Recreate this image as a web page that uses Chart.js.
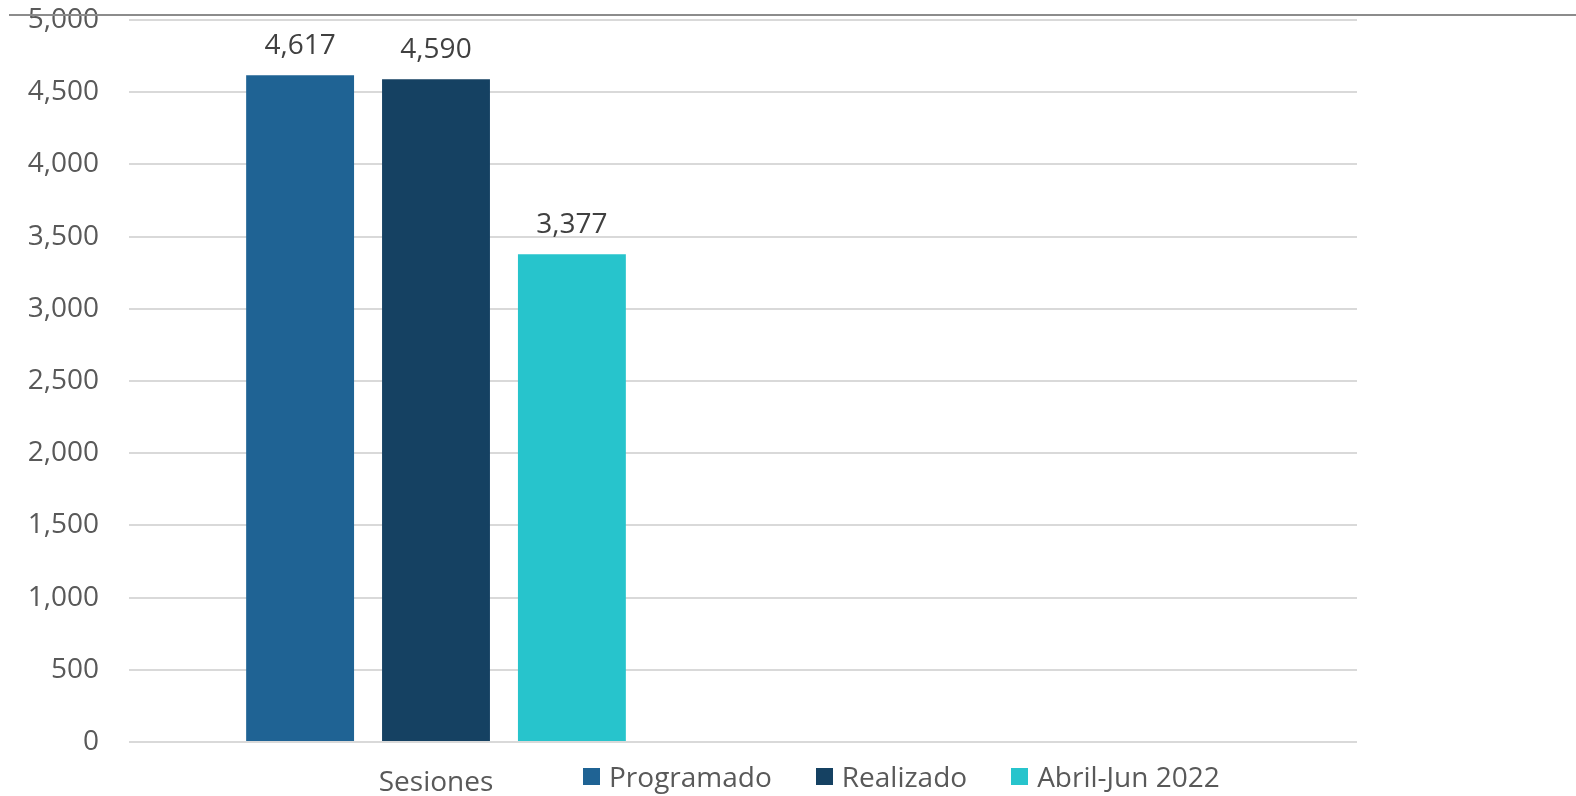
<!DOCTYPE html>
<html>
<head>
<meta charset="utf-8">
<script src="https://cdn.jsdelivr.net/npm/chart.js@4.4.0/dist/chart.umd.min.js"></script>
<style>
  html, body { margin: 0; padding: 0; background: #fff; }
  #wrap { position: relative; width: 1576px; height: 796px; }
  #topline { position: absolute; left: 9px; right: 0; top: 14px; height: 0; border-top: 2px solid #8c8c8c; }
  #legend { position: absolute; top: 757px; left: 583px; display: flex; font-family: "Open Sans", sans-serif; font-size: 28px; color: #595959; }
  #legend span { display: flex; align-items: center; margin-right: 44px; }
  #legend i { display: inline-block; width: 17px; height: 17px; margin-right: 9px; }
</style>
</head>
<body>
<div id="wrap">
  <canvas id="myBarChart" width="1576" height="796"></canvas>
  <div id="topline"></div>
  <div id="legend"></div>
</div>
<script>
const categories = ['Sesiones', ''];
const seriesNames = ['Programado', 'Realizado', 'Abril-Jun 2022'];
const programado = [4617, null];
const realizado = [4590, null];
const abrilJun = [3377, null];
const colors = ['#1f6394', '#154162', '#27c4cc'];
const yTicks = [0, 500, 1000, 1500, 2000, 2500, 3000, 3500, 4000, 4500, 5000];

const font = "'Open Sans', sans-serif";

// value labels above each bar
const barLabels = {
    id: 'barLabels',
    afterDatasetsDraw(chart) {
        const ctx = chart.ctx;
        ctx.save();
        ctx.font = '28px ' + font;
        ctx.fillStyle = '#404040';
        ctx.textAlign = 'center';
        ctx.textBaseline = 'bottom';
        chart.data.datasets.forEach((ds, i) => {
            chart.getDatasetMeta(i).data.forEach((bar, j) => {
                const v = ds.data[j];
                if (v == null) return;
                ctx.fillText(v.toLocaleString('en-US'), bar.x, bar.y - 15);
            });
        });
        ctx.restore();
    }
};

const seriesData = [programado, realizado, abrilJun];

const myBarChart = new Chart(document.getElementById('myBarChart').getContext('2d'), {
    type: 'bar',
    data: {
        labels: categories,
        datasets: seriesNames.map((name, i) => ({
            label: name,
            data: seriesData[i],
            backgroundColor: colors[i],
            borderWidth: 0,
            categoryPercentage: 0.664,
            barPercentage: 0.794
        }))
    },
    options: {
        responsive: false,
        animation: false,
        layout: { padding: { top: 20, right: 219, left: 0, bottom: 0 } },
        plugins: {
            legend: { display: false },
            tooltip: { enabled: false }
        },
        scales: {
            x: {
                grid: { display: false },
                border: { display: false },
                ticks: { color: '#595959', font: { family: font, size: 28 }, padding: 16 },
                afterFit(scale) { scale.height = 54; }
            },
            y: {
                min: 0,
                max: 5000,
                afterBuildTicks(scale) { scale.ticks = yTicks.map(v => ({ value: v })); },
                grid: { color: '#d9d9d9', lineWidth: 2, drawTicks: false },
                border: { display: false },
                ticks: {
                    color: '#595959',
                    font: { family: font, size: 28 },
                    padding: 30,
                    callback: v => v.toLocaleString('en-US')
                },
                afterFit(scale) {
                    scale.width = 129;
                    scale.paddingTop = 0;
                    scale.paddingBottom = 0;
                }
            }
        }
    },
    plugins: [barLabels]
});

const legend = document.getElementById('legend');
seriesNames.forEach((name, i) => {
    const item = document.createElement('span');
    item.innerHTML = '<i style="background:' + colors[i] + '"></i>' + name;
    legend.appendChild(item);
});
</script>
</body>
</html>
